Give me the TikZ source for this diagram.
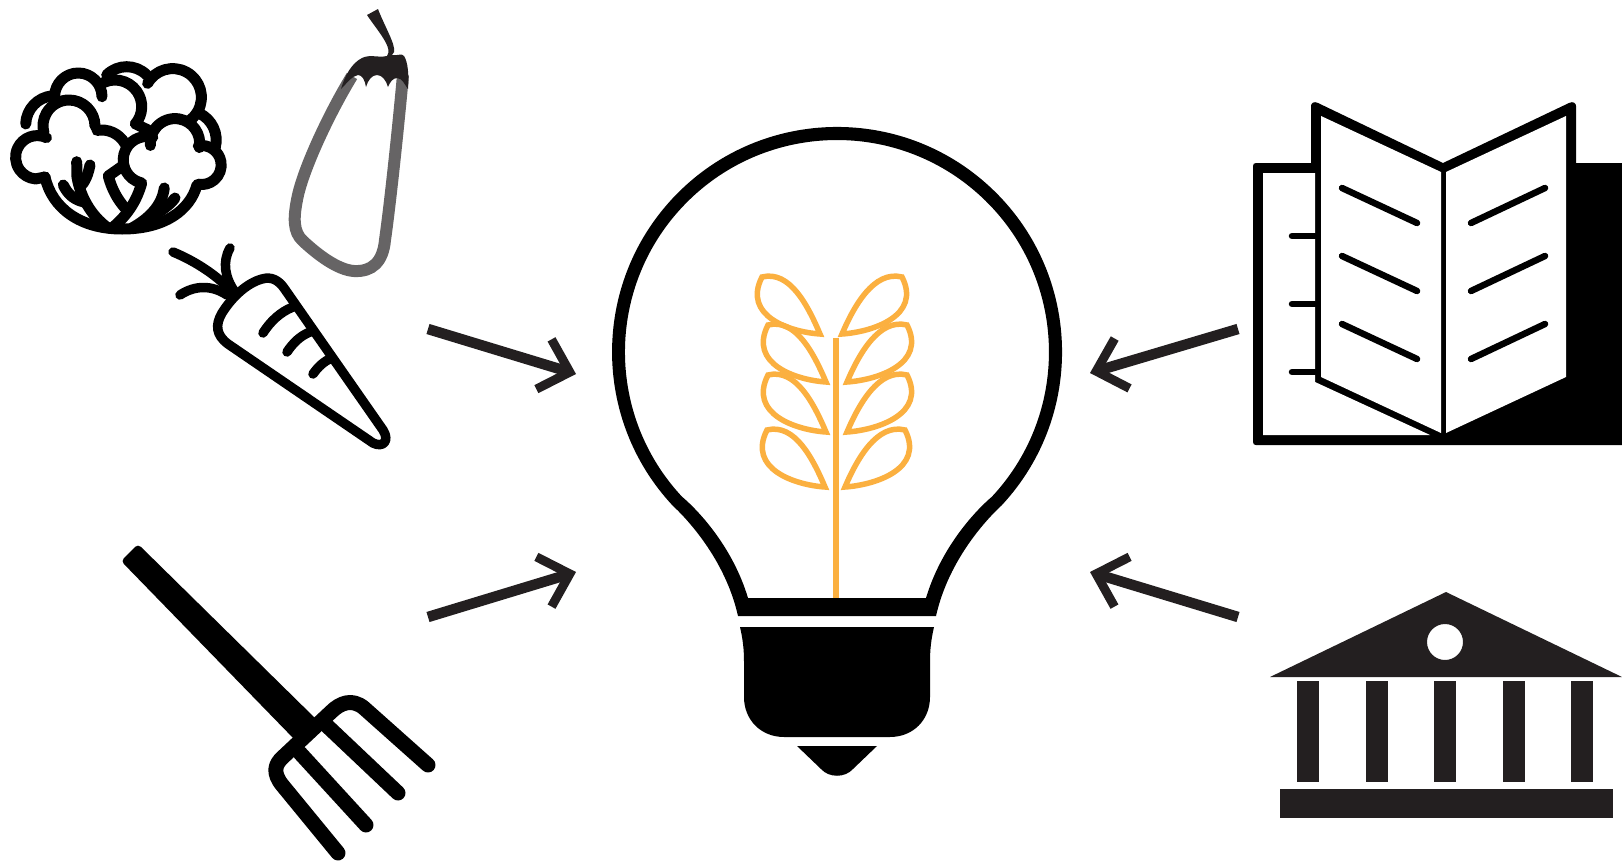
\documentclass[tikz,border=0pt]{standalone}
\usepackage{xcolor}
\usetikzlibrary{
    arrows.meta,
    calc
}
\definecolor{inkdark}{HTML}{231F20}
\definecolor{skingray}{HTML}{666465}
\definecolor{grainorange}{HTML}{FBB040}

% centre x, centre y, radius, start angle, end angle
\newcommand{\lobe}[5]{\draw[veggie] ($(#1,#2)+(#4:#3pt)$) arc[start angle=#4, end angle=#5, radius=#3pt];}

\begin{document}
\begin{tikzpicture}[x=1pt, y=-1pt,
    veggie/.style={draw=black, line width=11pt, line cap=round, line join=round},
    carrotline/.style={draw=black, line width=9.5pt, line cap=round, line join=round},
    tine/.style={draw=black, line width=15pt, line cap=round, line join=round},
    bookline/.style={draw=black, line width=6.5pt, line cap=round},
    leaf/.style={draw=grainorange, line width=5.5pt, line join=miter, miter limit=10},
    inflow/.style={draw=inkdark, line width=10.5pt,
        -{Straight Barb[length=27pt, width=52pt, line width=9pt, line cap=butt]}}
]

    \useasboundingbox[fill=white] (0,0) rectangle (1622,862);

    % Cauliflower
    \draw[veggie] (45,177) .. controls (52,208) and (80,229) .. (122,229) .. controls (165,229) and (190,210) .. (197,185);
    \lobe{37.3}{157.3}{21.7}{65}{265}
    \lobe{69}{126}{26}{0}{195}
    \lobe{101.7}{156.7}{26.7}{100}{30}
    \lobe{55}{125}{29.3}{95}{178}
    \lobe{78.3}{96.7}{23.7}{0}{180}
    \lobe{115}{106.7}{26.7}{125}{-40}
    \lobe{126.7}{95}{28.3}{135}{45}
    \lobe{172.7}{97.3}{28.7}{151}{-57}
    \lobe{186.7}{140}{29.5}{65}{-15}
    \lobe{146.7}{160}{23.5}{75}{255}
    \lobe{175}{143.3}{24.7}{-10}{185}
    \lobe{201.7}{165}{19.5}{100}{-100}
    \draw[veggie] (35.4,179) -- (45,177);
    \draw[veggie] (135.4,123.8) -- (148,130);
    \draw[veggie] (76.7,161.7) -- (77,177) .. controls (80,195) and (90,215) .. (108,228);
    \draw[veggie] (90,165) .. controls (88,175) and (85,182) .. (80,187);
    \draw[veggie] (63.3,185) .. controls (68,195) and (75,200) .. (84,202);
    \draw[veggie] (124,165) -- (108.3,176) .. controls (112,190) and (118,200) .. (125,208);
    \draw[veggie] (141.7,183) .. controls (137,200) and (128,215) .. (112,228);
    \draw[veggie] (164.3,188) .. controls (162,205) and (150,218) .. (132,228);
    \draw[veggie] (175,198) .. controls (170,205) and (162,210) .. (152,217);

    % Eggplant
    \draw[draw=skingray, line width=12pt] (352,76) .. controls (330,112) and (305,165) .. (298,195) .. controls (293,218) and (293,232) .. (303,241) .. controls (318,255) and (338,270) .. (354,271) .. controls (372,272) and (383,262) .. (385,240) .. controls (390,205) and (398,130) .. (403,75);
    \fill[inkdark] (367,15) -- (378,9) .. controls (384,25) and (396,45) .. (394,52) -- (392,55) .. controls (397,56) and (402,53) .. (404,56) .. controls (408,62) and (409,75) .. (408,89) .. controls (405,85) and (402,78) .. (397,78) .. controls (393,78) and (390,82) .. (388,87) .. controls (386,80) and (382,75) .. (377,75) .. controls (372,75) and (368,80) .. (366,87) .. controls (365,80) and (362,75) .. (358,75) .. controls (352,76) and (347,83) .. (341,89) .. controls (345,75) and (352,63) .. (362,58) .. controls (370,54) and (378,58) .. (387,56) .. controls (390,52) and (388,47) .. (386,43) .. controls (382,35) and (373,24) .. (367,15) -- cycle;

    % Carrot
    \draw[carrotline] (284,288) -- (383,430) .. controls (390,441) and (383,448) .. (373,443) -- (228,344) .. controls (216,335) and (215,325) .. (222,313) .. controls (232,297) and (247,283) .. (262,279) .. controls (272,276) and (279,281) .. (284,288) -- cycle;
    \draw[carrotline] (263,333) .. controls (270,322) and (280,312) .. (293,307);
    \draw[carrotline] (287,352) .. controls (293,343) and (300,336) .. (310,332);
    \draw[carrotline] (313,374) .. controls (318,367) and (324,361) .. (332,358);
    \draw[carrotline] (173,252) .. controls (195,261) and (218,276) .. (232,292);
    \draw[carrotline] (230,248) .. controls (222,262) and (225,278) .. (235,292);
    \draw[carrotline] (180,295) .. controls (195,285) and (212,285) .. (227,295);

    % Fork
    \fill[black, rounded corners=4pt] (138,544) -- (121,561) -- (296,741) -- (317,720) -- cycle;
    \draw[tine] (338,853) -- (283,786) .. controls (272,773) and (275,764) .. (283,757) -- (331,712) .. controls (340,703) and (352,698) .. (364,708) -- (428,765);
    \draw[tine] (323,722) -- (398,793);
    \draw[tine] (300,753) -- (366,825);

    % Bulb glass
    \fill[black, even odd rule]
        (738,616) -- (936,616) .. controls (949,558) and (989,517) .. (1001.6,505.4)
        arc[start angle=-43, end angle=223, radius=225pt]
        .. controls (685,517) and (725,558) .. (738,616) -- cycle
        (748,598) -- (926,598) .. controls (941,548) and (974,512) .. (992,496.6)
        arc[start angle=-43, end angle=223, radius=212pt]
        .. controls (700,512) and (733,548) .. (748,598) -- cycle;

    % Bulb base
    \fill[black] (740,627) -- (934,627) .. controls (931,640) and (930,650) .. (930,662) -- (930,697) .. controls (930,720) and (913,737) .. (890,737) -- (784,737) .. controls (761,737) and (744,720) .. (744,697) -- (744,662) .. controls (744,650) and (743,640) .. (740,627) -- cycle;
    \fill[black] (797,746) -- (877,746) -- (853,769) .. controls (845,778) and (829,778) .. (821,769) -- cycle;

    % Grain
    \draw[draw=grainorange, line width=5.5pt] (836,338) -- (836,598);
    \foreach \tipx/\tipy in {820/334, 826/382, 826/432, 825/487}
        \draw[leaf, shift={(\tipx,\tipy)}] (0,0) .. controls (-12,-28) and (-30,-64) .. (-58,-57) .. controls (-78,-18) and (-30,-2) .. cycle;
    \foreach \tipx/\tipy in {842/334, 847/382, 847/432, 845/487}
        \draw[leaf, shift={(\tipx,\tipy)}, xscale=-1] (0,0) .. controls (-12,-28) and (-32,-64) .. (-60,-57) .. controls (-80,-18) and (-30,-2) .. cycle;

    % Book
    \fill[black] (1253,166) .. controls (1253,164) and (1254,163) .. (1256,163) -- (1311,163) -- (1311,106) .. controls (1311,103) and (1314,101) .. (1318,103) -- (1443,163) -- (1569,103) .. controls (1573,101) and (1576,103) .. (1576,106) -- (1576,163) -- (1622,163) -- (1622,445) -- (1256,445) .. controls (1254,445) and (1253,444) .. (1253,442) -- cycle;
    \fill[white] (1263,173) -- (1315,173) -- (1315,382) -- (1430,435) -- (1263,435) -- cycle;
    \fill[white] (1321,116) -- (1441,172) -- (1441,433) -- (1321,377) -- cycle;
    \fill[white] (1446,172) -- (1566,116) -- (1566,377) -- (1446,433) -- cycle;
    \foreach \liney in {236, 304, 372}
        \draw[bookline] (1292,\liney) -- (1315,\liney);
    \foreach \liney in {188, 256, 324} {
        \draw[bookline] (1342,\liney) -- (1417,\liney+35);
        \draw[bookline] (1471,\liney+35) -- (1545,\liney);
    }

    % Building
    \fill[inkdark, even odd rule] (1446,592) -- (1622,677) -- (1270,677) -- cycle (1445,642) circle[radius=18pt];
    \foreach \colx in {1297, 1366, 1434, 1503, 1571}
        \fill[inkdark] (\colx,681) rectangle (\colx+22,782);
    \fill[inkdark] (1280,789) rectangle (1613,818);

    % Arrows into the bulb
    \coordinate (carrotside) at (428,329);
    \coordinate (forkside) at (428,617);
    \coordinate (bookside) at (1238,329);
    \coordinate (bankside) at (1238,617);
    \coordinate (bulbnw) at (576,374);
    \coordinate (bulbsw) at (576,572);
    \coordinate (bulbne) at (1090,373);
    \coordinate (bulbse) at (1090,572);
    \draw[inflow] (carrotside) -- (bulbnw);
    \draw[inflow] (forkside) -- (bulbsw);
    \draw[inflow] (bookside) -- (bulbne);
    \draw[inflow] (bankside) -- (bulbse);

\end{tikzpicture}
\end{document}
